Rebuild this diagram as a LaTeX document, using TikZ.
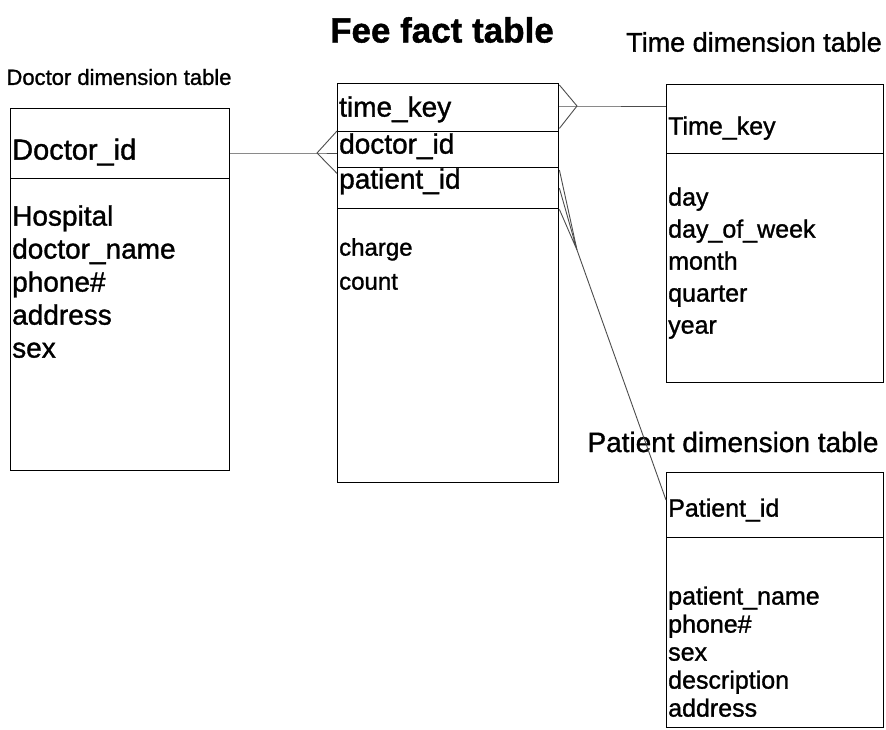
\documentclass[tikz,border=0pt]{standalone}
\usepackage{fontspec}
\setmainfont{Liberation Sans}[FakeBold=1.2]
\usetikzlibrary{positioning}

\tikzset{
  tbl/.style={draw, line width=1.4pt, anchor=north west, inner sep=0pt},
  fld/.style={anchor=west, inner xsep=2pt, inner ysep=0pt, text height=0.72em, text depth=0.2em,
    font=\fontsize{25}{29}\selectfont},
  big/.style={fld, font=\fontsize{28}{32}\selectfont},
  small/.style={fld, font=\fontsize{24}{28}\selectfont},
  ttl/.style={font=\fontsize{27}{31}\selectfont},
  link/.style={line width=0.9pt, black!70}
}

\begin{document}
\begin{tikzpicture}[x=1pt,y=-1pt]
\useasboundingbox (0,0) rectangle (886,729);

% titles
\node[font=\fontsize{35}{40}\selectfont\bfseries] (facttitle) at (442,30) {Fee fact table};
\node[ttl] (timetitle) at (754,42) {Time dimension table};
\node[font=\fontsize{22}{26}\selectfont] (doctitle) at (119,77) {Doctor dimension table};
\node[ttl,font=\fontsize{28}{32}\selectfont] (pattitle) at (733,442) {Patient dimension table};

% doctor table
\node[tbl, minimum width=219pt, minimum height=70pt] (dochead) at (10,108) {};
\node[tbl, minimum width=219pt, minimum height=292pt] (docbody) at (10,178) {};
\node[big, font=\fontsize{29}{33}\selectfont] (dockey) at (10,157) {Doctor\_id};
\foreach \t [count=\i] in {Hospital, doctor\_name, phone\#, address, sex}
  \node[big] (doc\i) at (10,190+33*\i) {\t};

% fact table
\node[tbl, minimum width=221pt, minimum height=48pt] (fktime) at (337,83) {};
\node[tbl, minimum width=221pt, minimum height=36pt] (fkdoc) at (337,131) {};
\node[tbl, minimum width=221pt, minimum height=41pt] (fkpat) at (337,167) {};
\node[tbl, minimum width=221pt, minimum height=274pt] (fkbody) at (337,208) {};
\node[big] (fk1) at (337,114) {time\_key};
\node[big] (fk2) at (337,151) {doctor\_id};
\node[big] (fk3) at (337,186) {patient\_id};
\node[small] (fk4) at (337,253) {charge};
\node[small] (fk5) at (337,287) {count};

% time table
\node[tbl, minimum width=217pt, minimum height=69pt] (timehead) at (666,84) {};
\node[tbl, minimum width=217pt, minimum height=229pt] (timebody) at (666,153) {};
\node[fld] (timekey) at (666,132) {Time\_key};
\foreach \t [count=\i] in {day, day\_of\_week, month, quarter, year}
  \node[fld] (time\i) at (666,171+32*\i) {\t};

% patient table
\node[tbl, minimum width=217pt, minimum height=65pt] (pathead) at (666,472) {};
\node[tbl, minimum width=217pt, minimum height=190pt] (patbody) at (666,537) {};
\node[fld] (patkey) at (666,514) {Patient\_id};
\foreach \t [count=\i] in {patient\_name, phone\#, sex, description, address}
  \node[fld] (pat\i) at (666,574+28*\i) {\t};

% links with crow's feet
\coordinate (dfork) at (317,153);
\draw[link] (dochead.east |- dfork) -- (dfork) -- (fkdoc.west |- dfork);
\draw[link] (fkdoc.north west) -- (dfork) -- ([yshift=-5pt]fkdoc.south west);

\coordinate (tfork) at (577,106);
\draw[link] (fktime.east |- tfork) -- (tfork) -- (timehead.west |- tfork);
\draw[link] ([yshift=-2pt]fktime.north east) -- (tfork) -- ([yshift=4pt]fktime.south east);

\coordinate (pfork) at (577,250);
\draw[link] ([yshift=-3pt]fkpat.north east) -- (pfork) -- ([yshift=-28pt]pathead.north west);
\draw[link] (fkpat.east) -- (pfork) -- (fkpat.south east);
\end{tikzpicture}
\end{document}
